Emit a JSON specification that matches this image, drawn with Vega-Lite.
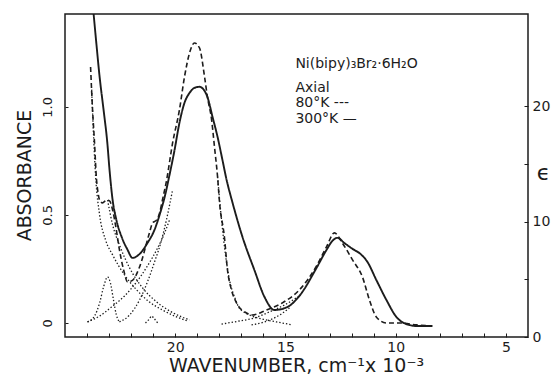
{
  "$schema": "https://vega.github.io/schema/vega-lite/v6.json",
  "width": 463,
  "height": 323,
  "autosize": {"type": "none"},
  "padding": {"left": 65, "top": 14, "right": 24, "bottom": 42},
  "background": "white",
  "config": {
    "font": "DejaVu Sans",
    "view": {"stroke": "#1c1c1c", "strokeWidth": 1.5},
    "axis": {
      "domain": false,
      "grid": false,
      "tickColor": "#1c1c1c",
      "tickWidth": 1,
      "labelColor": "#1c1c1c",
      "titleColor": "#1c1c1c",
      "titleFontWeight": "normal",
      "labelFont": "DejaVu Sans",
      "titleFont": "DejaVu Sans"
    }
  },
  "datasets": {
    "spectra": [
      {"series": "300 K", "kind": "300 K", "wn": 23.72, "abs": 1.45},
      {"series": "300 K", "kind": "300 K", "wn": 23.58, "abs": 1.296},
      {"series": "300 K", "kind": "300 K", "wn": 23.43, "abs": 1.139},
      {"series": "300 K", "kind": "300 K", "wn": 23.25, "abs": 0.986},
      {"series": "300 K", "kind": "300 K", "wn": 23.08, "abs": 0.833},
      {"series": "300 K", "kind": "300 K", "wn": 22.98, "abs": 0.708},
      {"series": "300 K", "kind": "300 K", "wn": 22.84, "abs": 0.569},
      {"series": "300 K", "kind": "300 K", "wn": 22.67, "abs": 0.477},
      {"series": "300 K", "kind": "300 K", "wn": 22.43, "abs": 0.398},
      {"series": "300 K", "kind": "300 K", "wn": 22.16, "abs": 0.338},
      {"series": "300 K", "kind": "300 K", "wn": 21.94, "abs": 0.301},
      {"series": "300 K", "kind": "300 K", "wn": 21.62, "abs": 0.319},
      {"series": "300 K", "kind": "300 K", "wn": 21.26, "abs": 0.37},
      {"series": "300 K", "kind": "300 K", "wn": 20.94, "abs": 0.431},
      {"series": "300 K", "kind": "300 K", "wn": 20.71, "abs": 0.5},
      {"series": "300 K", "kind": "300 K", "wn": 20.48, "abs": 0.583},
      {"series": "300 K", "kind": "300 K", "wn": 20.26, "abs": 0.685},
      {"series": "300 K", "kind": "300 K", "wn": 20.03, "abs": 0.801},
      {"series": "300 K", "kind": "300 K", "wn": 19.81, "abs": 0.926},
      {"series": "300 K", "kind": "300 K", "wn": 19.58, "abs": 1.019},
      {"series": "300 K", "kind": "300 K", "wn": 19.35, "abs": 1.065},
      {"series": "300 K", "kind": "300 K", "wn": 19.13, "abs": 1.088},
      {"series": "300 K", "kind": "300 K", "wn": 18.9, "abs": 1.093},
      {"series": "300 K", "kind": "300 K", "wn": 18.67, "abs": 1.074},
      {"series": "300 K", "kind": "300 K", "wn": 18.54, "abs": 1.046},
      {"series": "300 K", "kind": "300 K", "wn": 18.31, "abs": 0.954},
      {"series": "300 K", "kind": "300 K", "wn": 18.08, "abs": 0.861},
      {"series": "300 K", "kind": "300 K", "wn": 17.86, "abs": 0.755},
      {"series": "300 K", "kind": "300 K", "wn": 17.67, "abs": 0.662},
      {"series": "300 K", "kind": "300 K", "wn": 17.4, "abs": 0.556},
      {"series": "300 K", "kind": "300 K", "wn": 16.95, "abs": 0.398},
      {"series": "300 K", "kind": "300 K", "wn": 16.41, "abs": 0.245},
      {"series": "300 K", "kind": "300 K", "wn": 15.95, "abs": 0.12},
      {"series": "300 K", "kind": "300 K", "wn": 15.5, "abs": 0.06},
      {"series": "300 K", "kind": "300 K", "wn": 14.91, "abs": 0.074},
      {"series": "300 K", "kind": "300 K", "wn": 14.37, "abs": 0.125},
      {"series": "300 K", "kind": "300 K", "wn": 13.59, "abs": 0.255},
      {"series": "300 K", "kind": "300 K", "wn": 13.14, "abs": 0.338},
      {"series": "300 K", "kind": "300 K", "wn": 12.87, "abs": 0.38},
      {"series": "300 K", "kind": "300 K", "wn": 12.64, "abs": 0.394},
      {"series": "300 K", "kind": "300 K", "wn": 12.33, "abs": 0.37},
      {"series": "300 K", "kind": "300 K", "wn": 11.96, "abs": 0.343},
      {"series": "300 K", "kind": "300 K", "wn": 11.55, "abs": 0.315},
      {"series": "300 K", "kind": "300 K", "wn": 11.28, "abs": 0.282},
      {"series": "300 K", "kind": "300 K", "wn": 10.88, "abs": 0.199},
      {"series": "300 K", "kind": "300 K", "wn": 10.42, "abs": 0.106},
      {"series": "300 K", "kind": "300 K", "wn": 9.97, "abs": 0.028},
      {"series": "300 K", "kind": "300 K", "wn": 9.52, "abs": -0.005},
      {"series": "300 K", "kind": "300 K", "wn": 9.06, "abs": -0.014},
      {"series": "300 K", "kind": "300 K", "wn": 8.34, "abs": -0.014},

      {"series": "80 K", "kind": "80 K", "wn": 23.84, "abs": 1.185},
      {"series": "80 K", "kind": "80 K", "wn": 23.75, "abs": 0.986},
      {"series": "80 K", "kind": "80 K", "wn": 23.66, "abs": 0.833},
      {"series": "80 K", "kind": "80 K", "wn": 23.58, "abs": 0.676},
      {"series": "80 K", "kind": "80 K", "wn": 23.52, "abs": 0.616},
      {"series": "80 K", "kind": "80 K", "wn": 23.43, "abs": 0.569},
      {"series": "80 K", "kind": "80 K", "wn": 23.3, "abs": 0.556},
      {"series": "80 K", "kind": "80 K", "wn": 23.11, "abs": 0.569},
      {"series": "80 K", "kind": "80 K", "wn": 22.98, "abs": 0.565},
      {"series": "80 K", "kind": "80 K", "wn": 22.84, "abs": 0.523},
      {"series": "80 K", "kind": "80 K", "wn": 22.71, "abs": 0.454},
      {"series": "80 K", "kind": "80 K", "wn": 22.53, "abs": 0.338},
      {"series": "80 K", "kind": "80 K", "wn": 22.34, "abs": 0.245},
      {"series": "80 K", "kind": "80 K", "wn": 22.16, "abs": 0.19},
      {"series": "80 K", "kind": "80 K", "wn": 21.94, "abs": 0.197},
      {"series": "80 K", "kind": "80 K", "wn": 21.62, "abs": 0.259},
      {"series": "80 K", "kind": "80 K", "wn": 21.17, "abs": 0.417},
      {"series": "80 K", "kind": "80 K", "wn": 21.03, "abs": 0.463},
      {"series": "80 K", "kind": "80 K", "wn": 20.84, "abs": 0.477},
      {"series": "80 K", "kind": "80 K", "wn": 20.71, "abs": 0.509},
      {"series": "80 K", "kind": "80 K", "wn": 20.58, "abs": 0.569},
      {"series": "80 K", "kind": "80 K", "wn": 20.39, "abs": 0.662},
      {"series": "80 K", "kind": "80 K", "wn": 20.12, "abs": 0.833},
      {"series": "80 K", "kind": "80 K", "wn": 19.81, "abs": 0.986},
      {"series": "80 K", "kind": "80 K", "wn": 19.58, "abs": 1.139},
      {"series": "80 K", "kind": "80 K", "wn": 19.35, "abs": 1.25},
      {"series": "80 K", "kind": "80 K", "wn": 19.13, "abs": 1.296},
      {"series": "80 K", "kind": "80 K", "wn": 18.9, "abs": 1.273},
      {"series": "80 K", "kind": "80 K", "wn": 18.67, "abs": 1.139},
      {"series": "80 K", "kind": "80 K", "wn": 18.54, "abs": 1.046},
      {"series": "80 K", "kind": "80 K", "wn": 18.35, "abs": 0.94},
      {"series": "80 K", "kind": "80 K", "wn": 18.22, "abs": 0.815},
      {"series": "80 K", "kind": "80 K", "wn": 18.08, "abs": 0.676},
      {"series": "80 K", "kind": "80 K", "wn": 17.99, "abs": 0.556},
      {"series": "80 K", "kind": "80 K", "wn": 17.77, "abs": 0.398},
      {"series": "80 K", "kind": "80 K", "wn": 17.63, "abs": 0.245},
      {"series": "80 K", "kind": "80 K", "wn": 17.45, "abs": 0.153},
      {"series": "80 K", "kind": "80 K", "wn": 17.22, "abs": 0.093},
      {"series": "80 K", "kind": "80 K", "wn": 16.77, "abs": 0.046},
      {"series": "80 K", "kind": "80 K", "wn": 16.5, "abs": 0.037},
      {"series": "80 K", "kind": "80 K", "wn": 15.86, "abs": 0.06},
      {"series": "80 K", "kind": "80 K", "wn": 15.14, "abs": 0.093},
      {"series": "80 K", "kind": "80 K", "wn": 14.37, "abs": 0.153},
      {"series": "80 K", "kind": "80 K", "wn": 13.59, "abs": 0.264},
      {"series": "80 K", "kind": "80 K", "wn": 13.14, "abs": 0.352},
      {"series": "80 K", "kind": "80 K", "wn": 12.78, "abs": 0.417},
      {"series": "80 K", "kind": "80 K", "wn": 12.42, "abs": 0.37},
      {"series": "80 K", "kind": "80 K", "wn": 11.96, "abs": 0.292},
      {"series": "80 K", "kind": "80 K", "wn": 11.51, "abs": 0.213},
      {"series": "80 K", "kind": "80 K", "wn": 11.19, "abs": 0.106},
      {"series": "80 K", "kind": "80 K", "wn": 10.88, "abs": 0.028},
      {"series": "80 K", "kind": "80 K", "wn": 10.42, "abs": 0.0},
      {"series": "80 K", "kind": "80 K", "wn": 9.83, "abs": 0.0},
      {"series": "80 K", "kind": "80 K", "wn": 9.06, "abs": -0.009},
      {"series": "80 K", "kind": "80 K", "wn": 8.34, "abs": -0.014},

      {"series": "UV tail a", "kind": "component", "wn": 23.79, "abs": 1.08},
      {"series": "UV tail a", "kind": "component", "wn": 23.61, "abs": 0.676},
      {"series": "UV tail a", "kind": "component", "wn": 23.43, "abs": 0.5},
      {"series": "UV tail a", "kind": "component", "wn": 23.16, "abs": 0.384},
      {"series": "UV tail a", "kind": "component", "wn": 22.84, "abs": 0.315},
      {"series": "UV tail a", "kind": "component", "wn": 22.3, "abs": 0.222},
      {"series": "UV tail a", "kind": "component", "wn": 21.75, "abs": 0.153},
      {"series": "UV tail a", "kind": "component", "wn": 21.17, "abs": 0.097},
      {"series": "UV tail a", "kind": "component", "wn": 20.58, "abs": 0.06},
      {"series": "UV tail a", "kind": "component", "wn": 20.03, "abs": 0.032},
      {"series": "UV tail a", "kind": "component", "wn": 19.44, "abs": 0.009},

      {"series": "UV tail b", "kind": "component", "wn": 23.07, "abs": 0.569},
      {"series": "UV tail b", "kind": "component", "wn": 22.84, "abs": 0.454},
      {"series": "UV tail b", "kind": "component", "wn": 22.53, "abs": 0.361},
      {"series": "UV tail b", "kind": "component", "wn": 22.07, "abs": 0.255},
      {"series": "UV tail b", "kind": "component", "wn": 21.48, "abs": 0.162},
      {"series": "UV tail b", "kind": "component", "wn": 20.84, "abs": 0.097},
      {"series": "UV tail b", "kind": "component", "wn": 20.26, "abs": 0.056},
      {"series": "UV tail b", "kind": "component", "wn": 19.71, "abs": 0.028},
      {"series": "UV tail b", "kind": "component", "wn": 19.35, "abs": 0.014},

      {"series": "band 23", "kind": "component", "wn": 23.98, "abs": 0.005},
      {"series": "band 23", "kind": "component", "wn": 23.66, "abs": 0.032},
      {"series": "band 23", "kind": "component", "wn": 23.43, "abs": 0.093},
      {"series": "band 23", "kind": "component", "wn": 23.25, "abs": 0.167},
      {"series": "band 23", "kind": "component", "wn": 23.07, "abs": 0.213},
      {"series": "band 23", "kind": "component", "wn": 22.94, "abs": 0.185},
      {"series": "band 23", "kind": "component", "wn": 22.8, "abs": 0.106},
      {"series": "band 23", "kind": "component", "wn": 22.67, "abs": 0.037},
      {"series": "band 23", "kind": "component", "wn": 22.53, "abs": 0.005},

      {"series": "band 21", "kind": "component", "wn": 21.35, "abs": 0.0},
      {"series": "band 21", "kind": "component", "wn": 21.17, "abs": 0.019},
      {"series": "band 21", "kind": "component", "wn": 21.07, "abs": 0.032},
      {"series": "band 21", "kind": "component", "wn": 20.98, "abs": 0.023},
      {"series": "band 21", "kind": "component", "wn": 20.8, "abs": 0.0},

      {"series": "wing a", "kind": "component", "wn": 23.98, "abs": 0.005},
      {"series": "wing a", "kind": "component", "wn": 23.43, "abs": 0.032},
      {"series": "wing a", "kind": "component", "wn": 22.89, "abs": 0.074},
      {"series": "wing a", "kind": "component", "wn": 22.3, "abs": 0.125},
      {"series": "wing a", "kind": "component", "wn": 21.75, "abs": 0.19},
      {"series": "wing a", "kind": "component", "wn": 21.26, "abs": 0.264},
      {"series": "wing a", "kind": "component", "wn": 20.8, "abs": 0.347},
      {"series": "wing a", "kind": "component", "wn": 20.48, "abs": 0.417},
      {"series": "wing a", "kind": "component", "wn": 20.26, "abs": 0.477},

      {"series": "wing b", "kind": "component", "wn": 22.53, "abs": 0.005},
      {"series": "wing b", "kind": "component", "wn": 22.07, "abs": 0.037},
      {"series": "wing b", "kind": "component", "wn": 21.62, "abs": 0.106},
      {"series": "wing b", "kind": "component", "wn": 21.26, "abs": 0.19},
      {"series": "wing b", "kind": "component", "wn": 20.94, "abs": 0.282},
      {"series": "wing b", "kind": "component", "wn": 20.62, "abs": 0.384},
      {"series": "wing b", "kind": "component", "wn": 20.35, "abs": 0.5},
      {"series": "wing b", "kind": "component", "wn": 20.12, "abs": 0.616},

      {"series": "tail 19", "kind": "component", "wn": 18.08, "abs": 0.676},
      {"series": "tail 19", "kind": "component", "wn": 17.9, "abs": 0.477},
      {"series": "tail 19", "kind": "component", "wn": 17.72, "abs": 0.315},
      {"series": "tail 19", "kind": "component", "wn": 17.54, "abs": 0.199},
      {"series": "tail 19", "kind": "component", "wn": 17.31, "abs": 0.12},
      {"series": "tail 19", "kind": "component", "wn": 17.09, "abs": 0.069},
      {"series": "tail 19", "kind": "component", "wn": 16.63, "abs": 0.037},
      {"series": "tail 19", "kind": "component", "wn": 16.09, "abs": 0.019},
      {"series": "tail 19", "kind": "component", "wn": 15.41, "abs": 0.005},
      {"series": "tail 19", "kind": "component", "wn": 14.68, "abs": -0.009},

      {"series": "wing 13 a", "kind": "component", "wn": 17.9, "abs": -0.005},
      {"series": "wing 13 a", "kind": "component", "wn": 17.09, "abs": 0.009},
      {"series": "wing 13 a", "kind": "component", "wn": 16.41, "abs": 0.023},
      {"series": "wing 13 a", "kind": "component", "wn": 15.73, "abs": 0.051},
      {"series": "wing 13 a", "kind": "component", "wn": 15.05, "abs": 0.083},
      {"series": "wing 13 a", "kind": "component", "wn": 14.37, "abs": 0.125},

      {"series": "wing 13 b", "kind": "component", "wn": 16.54, "abs": -0.009},
      {"series": "wing 13 b", "kind": "component", "wn": 15.95, "abs": 0.005},
      {"series": "wing 13 b", "kind": "component", "wn": 15.41, "abs": 0.028},
      {"series": "wing 13 b", "kind": "component", "wn": 14.82, "abs": 0.069}
    ],
    "notes": [
      {"line": "Ni(bipy)₃Br₂·6H₂O", "wn": 14.55, "abs": 1.2},
      {"line": "Axial", "wn": 14.55, "abs": 1.088},
      {"line": "80°K ---", "wn": 14.55, "abs": 1.019},
      {"line": "300°K —", "wn": 14.55, "abs": 0.944}
    ],
    "extinction": [
      {"eps": 0},
      {"eps": 28}
    ]
  },
  "layer": [
    {
      "encoding": {
        "x": {
          "field": "wn",
          "type": "quantitative",
          "scale": {"domain": [4, 25], "reverse": true, "nice": false, "zero": false},
          "axis": {
            "title": "WAVENUMBER, cm⁻¹x 10⁻³",
            "values": [24, 23, 22, 21, 20, 19, 18, 17, 16, 15, 14, 13, 12, 11, 10, 9, 8, 7, 6, 5],
            "labelExpr": "datum.value % 5 === 0 ? datum.label : ''",
            "tickSize": -4,
            "labelPadding": 14,
            "labelBaseline": "middle",
            "labelFontSize": 14,
            "labelFlush": false,
            "titleFontSize": 19,
            "titleBaseline": "middle",
            "titleX": 231,
            "titleY": 28
          }
        },
        "y": {
          "field": "abs",
          "type": "quantitative",
          "scale": {"domain": [-0.065, 1.43], "nice": false, "zero": false},
          "axis": {
            "title": "ABSORBANCE",
            "orient": "left",
            "values": [0, 0.5, 1],
            "labelExpr": "datum.value === 0 ? '0' : format(datum.value, '.1f')",
            "labelAngle": -90,
            "labelAlign": "center",
            "labelBaseline": "middle",
            "labelPadding": 21,
            "tickSize": -3,
            "labelFontSize": 13,
            "labelFlush": false,
            "titleFontSize": 19,
            "titleAngle": -90,
            "titleAlign": "center",
            "titleBaseline": "middle",
            "titleX": -41,
            "titleY": 161
          }
        }
      },
      "layer": [
        {
          "data": {"name": "spectra"},
          "mark": {"type": "line", "clip": true, "color": "#1c1c1c", "strokeCap": "butt", "interpolate": "monotone"},
          "encoding": {
            "detail": {"field": "series", "type": "nominal"},
            "strokeDash": {
              "field": "kind",
              "type": "nominal",
              "scale": {"domain": ["300 K", "80 K", "component"], "range": [[1, 0], [5, 3], [1.4, 2]]},
              "legend": null
            },
            "strokeWidth": {
              "field": "kind",
              "type": "ordinal",
              "scale": {"domain": ["300 K", "80 K", "component"], "range": [1.9, 1.3, 1.1]},
              "legend": null
            }
          }
        },
        {
          "data": {"name": "notes"},
          "mark": {"type": "text", "align": "left", "baseline": "middle", "fontSize": 14, "color": "#1c1c1c", "font": "DejaVu Sans"},
          "encoding": {
            "text": {"field": "line", "type": "nominal"}
          }
        }
      ]
    },
    {
      "data": {"name": "extinction"},
      "mark": {"type": "point", "opacity": 0},
      "encoding": {
        "y": {
          "field": "eps",
          "type": "quantitative",
          "scale": {"domain": [0, 28], "nice": false, "zero": false},
          "axis": {
            "orient": "right",
            "title": "ϵ",
            "values": [0, 5, 10, 15, 20],
            "labelExpr": "datum.value % 10 === 0 ? datum.label : ''",
            "tickSize": -4,
            "labelPadding": 8,
            "labelAlign": "left",
            "labelBaseline": "middle",
            "labelFontSize": 14,
            "labelFlush": false,
            "titleFontSize": 22,
            "titleAngle": 0,
            "titleAlign": "center",
            "titleBaseline": "middle",
            "titleX": 15,
            "titleY": 158
          }
        }
      }
    }
  ],
  "resolve": {"scale": {"y": "independent"}}
}
